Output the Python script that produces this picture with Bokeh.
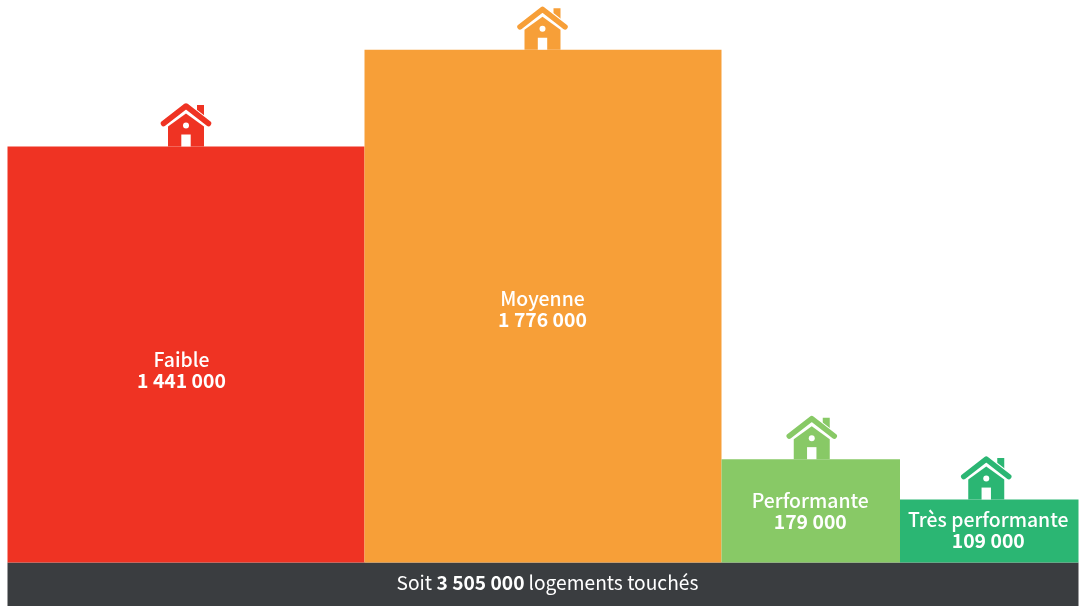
from bokeh.plotting import figure
from bokeh.models import ColumnDataSource, Range1d
from bokeh.core.properties import value
from bokeh.embed import file_html
from bokeh.resources import INLINE

# Data: bar area is the number of dwellings, the width is the class weight
categories = ["Faible", "Moyenne", "Performante", "Très performante"]
dwellings = [1441000, 1776000, 179000, 109000]
value_labels = ["1 441 000", "1 776 000", "179 000", "109 000"]
weights = [2, 2, 1, 1]
colors = ["#EF3323", "#F79F38", "#88C966", "#2BB673"]
footer_parts = ["Soit ", "3 505 000", " logements touchés"]
footer_color = "#3A3D40"

W, H = 1081, 606
FONT = "Noto Sans CJK SC"
FONT_MED = "Noto Sans CJK SC Medium"
PX_X = 178.5      # pixels per weight unit
PX_Y = 1 / 1732.0 # pixels per dwelling/weight
LEFT, BASE = 7, 562

# Styling offsets in pixels
label_dx = [-4.5, -0.5, -0.5, -1]
label_dy = [14, 2, -0.5, -2.5]
house_dx = [0, -0.5, 1, -3]

def dx(px):
    return px / PX_X

def dy(px):
    return px / PX_Y

p = figure(width=W, height=H, output_backend="svg", toolbar_location=None,
           x_range=Range1d(-LEFT / PX_X, (W - LEFT) / PX_X),
           y_range=Range1d(-(H - BASE) / PX_Y, BASE / PX_Y),
           min_border=0, outline_line_color=None, background_fill_color="white",
           border_fill_color="white",
           styles={"position": "fixed", "left": "0", "top": "0"})
p.axis.visible = False
p.grid.visible = False

heights = [d / w for d, w in zip(dwellings, weights)]
lefts, rights, c = [], [], 0
for w in weights:
    lefts.append(c)
    c += w
    rights.append(c)
centers = [(a + b) / 2 for a, b in zip(lefts, rights)]

# Footer band
p.quad(left=[0], right=[sum(weights)], bottom=[dy(-44)], top=[0],
       fill_color=footer_color, line_color=None)

# Bars
src = ColumnDataSource(dict(left=lefts, right=rights, top=heights,
                            bottom=[0] * 4, color=colors))
p.quad(left="left", right="right", top="top", bottom="bottom",
       fill_color="color", line_color=None, source=src)

# House icons, one per bar (offsets are pixels above the bar top)
for cx, h, col, hd in zip(centers, heights, colors, house_dx):
    X = lambda o: cx + dx(hd + o)
    Y = lambda o: h + dy(o)
    # chimney
    p.patch([X(11), X(18), X(18), X(11)], [Y(32), Y(26), Y(41.5), Y(41.5)],
            fill_color=col, line_color=None)
    # body
    p.patch([X(-18), X(-18), X(0), X(18), X(18)], [Y(0), Y(20), Y(33), Y(20), Y(0)],
            fill_color=col, line_color=None)
    # white gap above body
    p.line([X(-22.5), X(0), X(22.5)], [Y(23), Y(40.5), Y(23)],
           line_color="white", line_width=7.5, line_join="miter")
    # roof
    p.line([X(-22.5), X(0), X(22.5)], [Y(23), Y(40.5), Y(23)],
           line_color=col, line_width=5.5, line_cap="round", line_join="round")
    # door
    p.quad(left=[X(-4.7)], right=[X(4.7)], top=[Y(12)], bottom=[Y(0)],
           fill_color="white", line_color=None)
    # window
    p.scatter([X(0)], [Y(21)], size=6, marker="circle", fill_color="white", line_color=None)

# Labels
for cx, h, cat, lab, ldx, ldy in zip(centers, heights, categories, value_labels, label_dx, label_dy):
    xc = cx + dx(ldx)
    ym = h / 2 - dy(ldy)
    p.text([xc], [ym + dy(10.5)], text=[cat], text_color="white", text_align="center",
           text_baseline="middle", text_font=value(FONT_MED), text_font_size="19.4px")
    p.text([xc], [ym - dy(10.5)], text=[lab], text_color="white", text_align="center",
           text_baseline="middle", text_font=value(FONT), text_font_size="19.4px",
           text_font_style="bold")

# Footer text
fy = dy(-19.5)
fx0 = (396 - LEFT) / PX_X
fx1 = (436 - LEFT) / PX_X
fx2 = (528 - LEFT) / PX_X
p.text([fx0], [fy], text=[footer_parts[0].strip()], text_color="white", text_align="left",
       text_baseline="middle", text_font=value(FONT), text_font_size="19.2px")
p.text([fx1], [fy], text=[footer_parts[1]], text_color="white", text_align="left",
       text_baseline="middle", text_font=value(FONT), text_font_size="19.2px", text_font_style="bold")
p.text([fx2], [fy], text=[footer_parts[2].strip()], text_color="white", text_align="left",
       text_baseline="middle", text_font=value(FONT), text_font_size="19.2px")

open("out.html", "w").write(file_html(p, INLINE))
